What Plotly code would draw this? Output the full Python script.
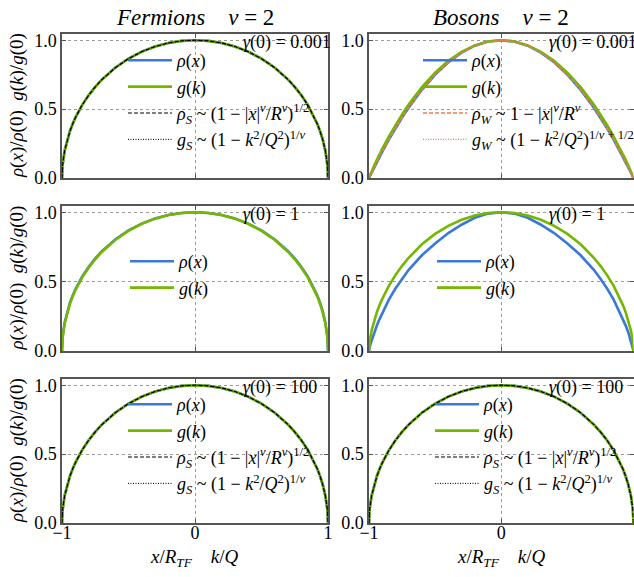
import plotly.graph_objects as go
from plotly.subplots import make_subplots

# sample positions (x/R_TF or k/Q)
X = [-1.0, -0.995, -0.98, -0.96, -0.94, -0.92, -0.9, -0.85, -0.8, -0.75, -0.7, -0.6, -0.5, -0.4,
     -0.3, -0.2, -0.1, 0.0, 0.1, 0.2, 0.3, 0.4, 0.5, 0.6, 0.7, 0.75, 0.8, 0.85, 0.9, 0.92, 0.94,
     0.96, 0.98, 0.995, 1.0]

# Fermions, gamma(0)=0.001 (all curves coincide)
ferm_weak_rho = [0.0, 0.100, 0.199, 0.280, 0.341, 0.392, 0.436, 0.527, 0.600, 0.661, 0.714, 0.800,
                 0.866, 0.917, 0.954, 0.980, 0.995, 1.0, 0.995, 0.980, 0.954, 0.917, 0.866, 0.800,
                 0.714, 0.661, 0.600, 0.527, 0.436, 0.392, 0.341, 0.280, 0.199, 0.100, 0.0]
ferm_weak_g = [0.0, 0.100, 0.199, 0.280, 0.341, 0.392, 0.436, 0.527, 0.600, 0.661, 0.714, 0.800,
               0.866, 0.917, 0.954, 0.980, 0.995, 1.0, 0.995, 0.980, 0.954, 0.917, 0.866, 0.800,
               0.714, 0.661, 0.600, 0.527, 0.436, 0.392, 0.341, 0.280, 0.199, 0.100, 0.0]
semicircle_S = [0.0, 0.100, 0.199, 0.280, 0.341, 0.392, 0.436, 0.527, 0.600, 0.661, 0.714, 0.800,
                0.866, 0.917, 0.954, 0.980, 0.995, 1.0, 0.995, 0.980, 0.954, 0.917, 0.866, 0.800,
                0.714, 0.661, 0.600, 0.527, 0.436, 0.392, 0.341, 0.280, 0.199, 0.100, 0.0]

# Fermions, gamma(0)=1
ferm_mid_rho = [0.0, 0.105, 0.206, 0.287, 0.349, 0.399, 0.443, 0.534, 0.606, 0.667, 0.719, 0.804,
                0.869, 0.918, 0.955, 0.980, 0.995, 1.0, 0.995, 0.980, 0.955, 0.918, 0.869, 0.804,
                0.719, 0.667, 0.606, 0.534, 0.443, 0.399, 0.349, 0.287, 0.206, 0.105, 0.0]
ferm_mid_g = [0.0, 0.100, 0.199, 0.280, 0.341, 0.392, 0.436, 0.527, 0.600, 0.661, 0.714, 0.800,
              0.866, 0.917, 0.954, 0.980, 0.995, 1.0, 0.995, 0.980, 0.954, 0.917, 0.866, 0.800,
              0.714, 0.661, 0.600, 0.527, 0.436, 0.392, 0.341, 0.280, 0.199, 0.100, 0.0]

# Bosons, gamma(0)=0.001
bos_weak_rho = [0.0, 0.010, 0.040, 0.078, 0.116, 0.154, 0.190, 0.278, 0.360, 0.438, 0.510, 0.640,
                0.750, 0.840, 0.910, 0.960, 0.990, 1.0, 0.990, 0.960, 0.910, 0.840, 0.750, 0.640,
                0.510, 0.438, 0.360, 0.278, 0.190, 0.154, 0.116, 0.078, 0.040, 0.010, 0.0]
bos_weak_g = [0.0, 0.013, 0.049, 0.092, 0.134, 0.174, 0.212, 0.301, 0.385, 0.462, 0.533, 0.659,
              0.765, 0.850, 0.915, 0.962, 0.990, 1.0, 0.990, 0.962, 0.915, 0.850, 0.765, 0.659,
              0.533, 0.462, 0.385, 0.301, 0.212, 0.174, 0.134, 0.092, 0.049, 0.013, 0.0]
parabola_W = [0.0, 0.010, 0.040, 0.078, 0.116, 0.154, 0.190, 0.278, 0.360, 0.438, 0.510, 0.640,
              0.750, 0.840, 0.910, 0.960, 0.990, 1.0, 0.990, 0.960, 0.910, 0.840, 0.750, 0.640,
              0.510, 0.438, 0.360, 0.278, 0.190, 0.154, 0.116, 0.078, 0.040, 0.010, 0.0]

# Bosons, gamma(0)=1
bos_mid_rho = [0.0, 0.030, 0.075, 0.135, 0.185, 0.230, 0.270, 0.370, 0.450, 0.520, 0.585, 0.690,
               0.775, 0.850, 0.910, 0.960, 0.990, 1.0, 0.990, 0.960, 0.910, 0.850, 0.775, 0.690,
               0.585, 0.520, 0.450, 0.370, 0.270, 0.230, 0.185, 0.135, 0.075, 0.030, 0.0]
bos_mid_g = [0.0, 0.066, 0.149, 0.223, 0.281, 0.331, 0.375, 0.469, 0.547, 0.614, 0.672, 0.769,
             0.844, 0.902, 0.946, 0.976, 0.994, 1.0, 0.994, 0.976, 0.946, 0.902, 0.844, 0.769,
             0.672, 0.614, 0.547, 0.469, 0.375, 0.331, 0.281, 0.223, 0.149, 0.066, 0.0]

# strong coupling gamma(0)=100 (fermions and bosons alike)
strong_rho = [0.0, 0.100, 0.199, 0.280, 0.341, 0.392, 0.436, 0.527, 0.600, 0.661, 0.714, 0.800,
              0.866, 0.917, 0.954, 0.980, 0.995, 1.0, 0.995, 0.980, 0.954, 0.917, 0.866, 0.800,
              0.714, 0.661, 0.600, 0.527, 0.436, 0.392, 0.341, 0.280, 0.199, 0.100, 0.0]
strong_g = [0.0, 0.100, 0.199, 0.280, 0.341, 0.392, 0.436, 0.527, 0.600, 0.661, 0.714, 0.800,
            0.866, 0.917, 0.954, 0.980, 0.995, 1.0, 0.995, 0.980, 0.954, 0.917, 0.866, 0.800,
            0.714, 0.661, 0.600, 0.527, 0.436, 0.392, 0.341, 0.280, 0.199, 0.100, 0.0]

X_TICKS = [-1, 0, 1]
X_TICKTEXT = ["\u22121", "0", "1"]
Y_TICKS = [0.0, 0.5, 1.0]
Y_TICKTEXT = ["0.0", "0.5", "1.0"]
GAMMA_LABELS = ["<i>γ</i>(0) = 0.001", "<i>γ</i>(0) = 1", "<i>γ</i>(0) = 100"]
COL_TITLES = ["<i>Fermions</i>\u2003<i>ν</i> = 2", "<i>Bosons</i>\u2003<i>ν</i> = 2"]
Y_TITLE = "<i>ρ</i>(<i>x</i>)/<i>ρ</i>(0)\u2002<i>g</i>(<i>k</i>)/<i>g</i>(0)"
X_TITLE = "<i>x</i>/<i>R<sub>TF</sub></i>\u2003<i>k</i>/<i>Q</i>"

BLUE = "#3b78d8"
GREEN = "#74b600"
ORANGE = "#ec7f45"
FRAME = "#555555"
FONT = "Liberation Serif"

L_RHO = "<i>ρ</i>(<i>x</i>)"
L_G = "<i>g</i>(<i>k</i>)"
L_RHO_S = "<i>ρ<sub>S</sub></i> ~ (1 − |<i>x</i>|<sup><i>ν</i></sup>/<i>R<sup>ν</sup></i>)<sup>1/2</sup>"
L_G_S = "<i>g<sub>S</sub></i> ~ (1 − <i>k</i><sup>2</sup>/<i>Q</i><sup>2</sup>)<sup>1/<i>ν</i></sup>"
L_RHO_W = "<i>ρ<sub>W</sub></i> ~ 1 − |<i>x</i>|<sup><i>ν</i></sup>/<i>R<sup>ν</sup></i>"
L_G_W = "<i>g<sub>W</sub></i> ~ (1 − <i>k</i><sup>2</sup>/<i>Q</i><sup>2</sup>)<sup>1/<i>ν</i> + 1/2</sup>"

fig = make_subplots(rows=3, cols=2)

panels = [
    (1, 1, "legend", [(ferm_weak_rho, L_RHO, BLUE, 2.6, "solid"), (ferm_weak_g, L_G, GREEN, 2.6, "solid"),
                      (semicircle_S, L_RHO_S, "black", 1.2, "4px,2px"), (semicircle_S, L_G_S, "black", 1.0, "1px,1.5px")]),
    (1, 2, "legend2", [(bos_weak_rho, L_RHO, BLUE, 2.6, "solid"), (bos_weak_g, L_G, GREEN, 2.6, "solid"),
                       (parabola_W, L_RHO_W, ORANGE, 1.3, "4px,2px"), (parabola_W, L_G_W, ORANGE, 1.1, "1px,1.5px")]),
    (2, 1, "legend3", [(ferm_mid_rho, L_RHO, BLUE, 2.6, "solid"), (ferm_mid_g, L_G, GREEN, 2.6, "solid")]),
    (2, 2, "legend4", [(bos_mid_rho, L_RHO, BLUE, 2.6, "solid"), (bos_mid_g, L_G, GREEN, 2.6, "solid")]),
    (3, 1, "legend5", [(strong_rho, L_RHO, BLUE, 2.6, "solid"), (strong_g, L_G, GREEN, 2.6, "solid"),
                       (semicircle_S, L_RHO_S, "black", 1.2, "4px,2px"), (semicircle_S, L_G_S, "black", 1.0, "1px,1.5px")]),
    (3, 2, "legend6", [(strong_rho, L_RHO, BLUE, 2.6, "solid"), (strong_g, L_G, GREEN, 2.6, "solid"),
                       (semicircle_S, L_RHO_S, "black", 1.2, "4px,2px"), (semicircle_S, L_G_S, "black", 1.0, "1px,1.5px")]),
]

for i, (r, c, leg, series) in enumerate(panels):
    for j, (yv, name, color, w, dash) in enumerate(series):
        fig.add_trace(go.Scatter(x=X, y=yv, mode="lines", name=name,
                                 line=dict(color=color, width=w, dash=dash),
                                 legend=leg, legendgroup=f"g{i}_{j}", showlegend=True,
                                 hoverinfo="skip"), row=r, col=c)

W, H = 634, 577
col_px = [(62, 328), (369, 633.5)]
row_px = [(34, 178), (206, 351), (379, 523)]
col_dom = [[a / W, b / W] for a, b in col_px]
row_dom = [[1 - b / H, 1 - a / H] for a, b in row_px]

axis_common = dict(showline=True, linecolor=FRAME, linewidth=1.5, mirror="allticks",
                   ticks="inside", ticklen=4, tickwidth=1, tickcolor=FRAME,
                   showgrid=True, gridcolor="#9a9a9a", griddash="dot", gridwidth=0.8,
                   zeroline=False, automargin=False,
                   tickfont=dict(size=18, color="black", family=FONT))

for r in range(1, 4):
    for c in range(1, 3):
        fig.update_xaxes(row=r, col=c, range=[-1, 1], domain=col_dom[c - 1],
                         tickvals=X_TICKS, ticktext=X_TICKTEXT, showticklabels=(r == 3),
                         ticklabelstandoff=-7, **axis_common)
        fig.update_yaxes(row=r, col=c, range=[0, 1.045], domain=row_dom[r - 1],
                         tickvals=Y_TICKS, ticktext=Y_TICKTEXT, showticklabels=True,
                         **axis_common)

annotations = []
axis_names = ["", "2", "3", "4", "5", "6"]
for idx, (r, c, _, _) in enumerate(panels):
    an = axis_names[idx]
    annotations.append(dict(text=GAMMA_LABELS[r - 1], xref=f"x{an} domain", yref=f"y{an} domain",
                            x=0.672, y=0.94, xanchor="left", yanchor="middle", showarrow=False,
                            font=dict(size=18, family=FONT, color="black")))
for c in range(2):
    a, b = col_px[c]
    annotations.append(dict(text=COL_TITLES[c], xref="paper", yref="paper",
                            x=(a + b) / 2 / W, y=1 - 18 / H, xanchor="center", yanchor="middle",
                            showarrow=False, font=dict(size=23, family=FONT, color="black")))
    annotations.append(dict(text=X_TITLE, xref="paper", yref="paper",
                            x=(a + b) / 2 / W, y=1 - 558 / H, xanchor="center", yanchor="middle",
                            showarrow=False, font=dict(size=19, family=FONT, color="black")))
for r in range(3):
    a, b = row_px[r]
    annotations.append(dict(text=Y_TITLE, xref="paper", yref="paper", textangle=-90,
                            x=17 / W, y=1 - (a + b) / 2 / H, xanchor="center", yanchor="middle",
                            showarrow=False, font=dict(size=19, family=FONT, color="black")))

leg_common = dict(bgcolor="rgba(0,0,0,0)", borderwidth=0, font=dict(size=18, family=FONT, color="black"),
                  xanchor="left", yanchor="top", tracegroupgap=0, itemwidth=44)
fig.update_layout(
    width=W, height=H, margin=dict(l=0, r=0, t=0, b=0, autoexpand=False),
    paper_bgcolor="white", plot_bgcolor="white",
    font=dict(family=FONT, size=18, color="black"),
    annotations=annotations,
    legend=dict(x=123 / W, y=1 - 42 / H, **leg_common),
    legend2=dict(x=418 / W, y=1 - 42 / H, **leg_common),
    legend3=dict(x=125 / W, y=1 - 243 / H, **leg_common),
    legend4=dict(x=432 / W, y=1 - 243 / H, **leg_common),
    legend5=dict(x=123 / W, y=1 - 386 / H, **leg_common),
    legend6=dict(x=430 / W, y=1 - 386 / H, **leg_common),
)

fig.write_html("out.html", config={"displayModeBar": False},
               post_script="document.body.style.margin='0px';")
